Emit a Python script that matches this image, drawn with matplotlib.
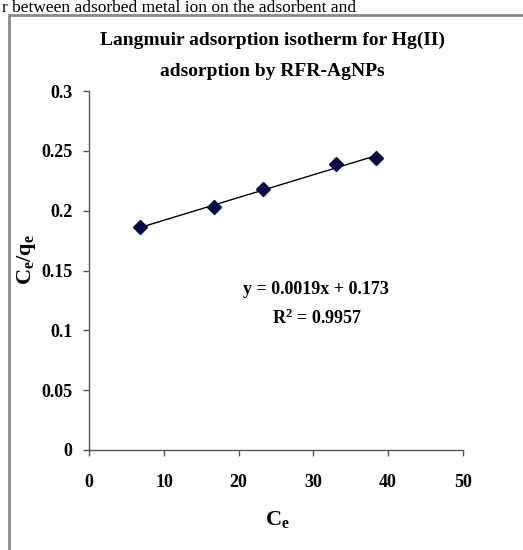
import numpy as np
import matplotlib
matplotlib.use('Agg')
import matplotlib.pyplot as plt
from matplotlib.patches import Rectangle

# data
ce = [6.8, 16.7, 23.3, 33.1, 38.4]
ce_qe = [0.186, 0.203, 0.218, 0.239, 0.244]
slope = 0.0019
intercept = 0.173
r2 = 0.9957
xticks = [0, 10, 20, 30, 40, 50]
yticks = [0, 0.05, 0.1, 0.15, 0.2, 0.25, 0.3]
ytick_labels = ['0', '0.05', '0.1', '0.15', '0.2', '0.25', '0.3']

plt.rcParams['font.family'] = ['Liberation Serif', 'DejaVu Serif']
plt.rcParams['mathtext.fontset'] = 'custom'
plt.rcParams['mathtext.rm'] = 'Liberation Serif'
plt.rcParams['mathtext.it'] = 'Liberation Serif:italic'
plt.rcParams['mathtext.bf'] = 'Liberation Serif:bold'
plt.rcParams['mathtext.default'] = 'bf'

W, H = 523, 550
fig = plt.figure(figsize=(W/100, H/100), dpi=100)

# page text at the top of the picture
fig.text(2/W, 1 - 12/H, 'r between adsorbed metal ion on the adsorbent and',
         fontsize=12.5, ha='left', va='baseline', color='black')

# chart border
fig.patches.append(Rectangle((9/W, -0.02), 1.1, 1 - 15/H + 0.02,
                             transform=fig.transFigure, fill=False,
                             edgecolor='#8a8a8a', linewidth=2))

ax = fig.add_axes([89.3/W, 1 - 450/H, (462.7 - 89.3)/W, (450 - 91)/H])
ax.patch.set_alpha(0)

xfit = np.array([ce[0], ce[-1]])
ax.plot(xfit, slope*xfit + intercept, color='black', lw=1.0, zorder=2)
ax.plot(ce, ce_qe, linestyle='none', marker='D', markersize=7,
        color='#0a0a4a', zorder=3)

ax.set_xlim(0, 50)
ax.set_ylim(0, 0.3)
ax.set_xticks(xticks)
ax.set_yticks(yticks)
ax.set_yticklabels(ytick_labels)
for s in ['top', 'right']:
    ax.spines[s].set_visible(False)
for s in ['left', 'bottom']:
    ax.spines[s].set_color('#555555')
    ax.spines[s].set_linewidth(1.0)
ax.tick_params(direction='out', length=4, width=1, color='#555555',
               labelsize=13)
ax.tick_params(axis='x', pad=13)
ax.tick_params(axis='y', pad=8)
for lab in ax.get_xticklabels() + ax.get_yticklabels():
    lab.set_fontweight('bold')

ax.set_xlabel('C$_e$', fontsize=16, fontweight='bold')
ax.set_ylabel('C$_e$/q$_e$', fontsize=16, fontweight='bold')
ax.xaxis.set_label_coords((277 - 89.3)/373.4, -(520 - 450)/359, transform=ax.transAxes)
ax.yaxis.set_label_coords(-(89.3 - 27)/373.4, (450 - 260)/359, transform=ax.transAxes)
ax.xaxis.label.set_va('center')
ax.yaxis.label.set_va('center')

fig.text(272/W, 1 - 40/H, 'Langmuir adsorption isotherm for Hg(II)',
         fontsize=14, fontweight='bold', ha='center', va='center')
fig.text(272/W, 1 - 72/H, 'adsorption by RFR-AgNPs',
         fontsize=14, fontweight='bold', ha='center', va='center')

fig.text(316/W, 1 - 290/H, 'y = 0.0019x + 0.173', fontsize=13,
         fontweight='bold', ha='center', va='center')
fig.text(317/W, 1 - 318/H, 'R$^2$ = 0.9957', fontsize=13,
         fontweight='bold', ha='center', va='center')

fig.savefig('out.png', dpi=100)
